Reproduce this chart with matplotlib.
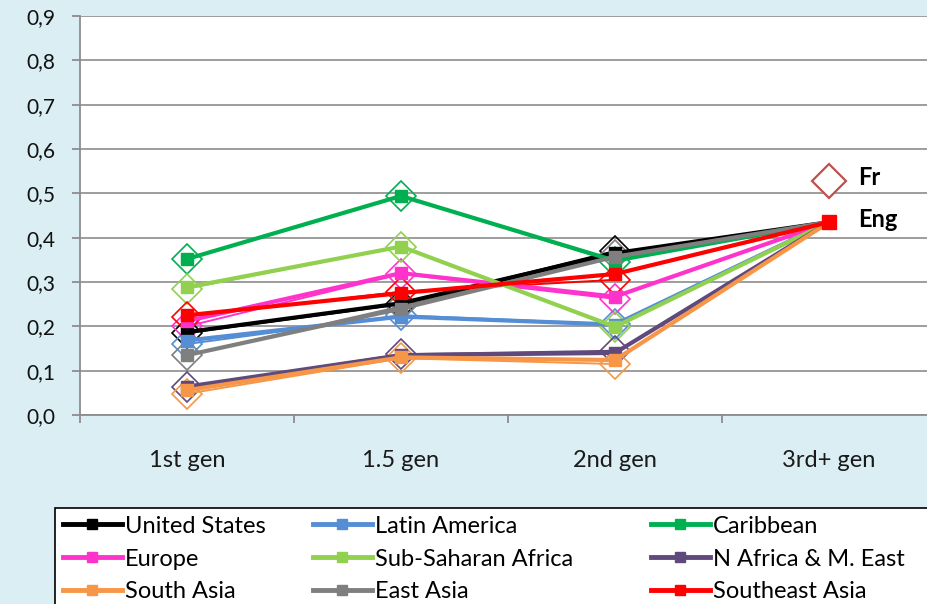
import matplotlib
matplotlib.use("Agg")
import matplotlib.pyplot as plt
from matplotlib.lines import Line2D
from matplotlib.patches import Rectangle

plt.rcParams['font.family'] = ['Lato', 'DejaVu Sans']

# categories and series (Eng = filled squares, Fr = hollow diamonds)
generations = ['1st gen', '1.5 gen', '2nd gen', '3rd+ gen']
regions = ['United States', 'Latin America', 'Caribbean',
           'Europe', 'Sub-Saharan Africa', 'N Africa & M. East',
           'South Asia', 'East Asia', 'Southeast Asia']
colors = ['#000000', '#558ED5', '#00B050',
          '#FF33CC', '#92D050', '#604A7B',
          '#F79646', '#7F7F7F', '#FF0000']

eng_vals = [
    [0.187, 0.252, 0.365, 0.435],   # United States
    [0.168, 0.222, 0.204, 0.435],   # Latin America
    [0.352, 0.494, 0.348, 0.435],   # Caribbean
    [0.212, 0.320, 0.267, 0.435],   # Europe
    [0.288, 0.380, 0.199, 0.435],   # Sub-Saharan Africa
    [0.064, 0.135, 0.140, 0.435],   # N Africa & M. East
    [0.056, 0.130, 0.124, 0.435],   # South Asia
    [0.135, 0.240, 0.357, 0.435],   # East Asia
    [0.225, 0.275, 0.318, 0.435],   # Southeast Asia
]
fr_vals = [
    [0.185, 0.250, 0.370],
    [0.160, 0.225, 0.205],
    [0.352, 0.494, 0.345],
    [0.200, 0.318, 0.262],
    [0.285, 0.380, 0.198],
    [0.063, 0.137, 0.145],
    [0.048, 0.128, 0.115],
    [0.135, 0.245, 0.362],
    [0.222, 0.278, 0.305],
]
fr_third = 0.528
eng_third = 0.435

W, H = 927, 604
fig = plt.figure(figsize=(W / 100, H / 100), dpi=100, facecolor='#DAEEF3')
ax = fig.add_axes([80 / W, 1 - 415 / H, 856 / W, 399 / H])
ax.set_facecolor('white')

x = list(range(len(generations)))
for name, col, ev, fv in zip(regions, colors, eng_vals, fr_vals):
    ax.plot(x[:3], fv, color=col, lw=1.4, marker='D', ms=15, mfc='none',
            mec=col, mew=1.2, zorder=3)
    ax.plot(x, ev, color=col, lw=3, marker='s', ms=8, mec=col, zorder=4)

# 3rd+ gen reference points
ax.plot([3], [fr_third], marker='D', ms=17, mfc='white', mec='#C0504D',
        mew=1.6, ls='none', zorder=5)
ax.plot([3], [eng_third], marker='s', ms=10, color='#FF0000', ls='none', zorder=6)
ax.text(3.135, fr_third + 0.008, 'Fr', fontsize=17, fontweight='bold',
        va='center', ha='left')
ax.text(3.135, eng_third + 0.006, 'Eng', fontsize=17, fontweight='bold',
        va='center', ha='left')

ax.set_xlim(-0.5, 3.5)
ax.set_ylim(0, 0.9)
ax.set_yticks([i / 10 for i in range(10)])
ax.set_yticklabels([f'{i / 10:.1f}'.replace('.', ',') for i in range(10)])
ax.set_xticks(x)
ax.set_xticklabels(generations)
ax.set_xticks([-0.5, 0.5, 1.5, 2.5], minor=True)
ax.tick_params(axis='x', which='major', length=0, pad=25, labelsize=17,
               labelcolor='#1a1a1a')
ax.tick_params(axis='x', which='minor', length=6, width=1.3, color='#8C8C8C')
ax.tick_params(axis='y', length=6, width=1.3, color='#8C8C8C', pad=12,
               labelsize=15, labelcolor='#111111')
ax.grid(axis='y', color='#8C8C8C', lw=1.2)
ax.set_axisbelow(True)
for s in ['top', 'right']:
    ax.spines[s].set_visible(False)
for s in ['left', 'bottom']:
    ax.spines[s].set_color('#8C8C8C')
    ax.spines[s].set_linewidth(1.3)

# legend box with three columns
fig.patches.append(Rectangle((55 / W, -0.05), 0.97, (604 - 508) / H + 0.05,
                             transform=fig.transFigure, facecolor='white',
                             edgecolor='black', lw=1.2, zorder=0))
col_x = [58, 308, 646]
for c in range(3):
    handles = []
    for r in range(3):
        i = r * 3 + c
        handles.append(Line2D([], [], color=colors[i], lw=3.5, marker='s',
                              ms=7, label=regions[i]))
    fig.legend(handles=handles, loc='upper left',
               bbox_to_anchor=(col_x[c] / W, 1 - 511 / H), frameon=False,
               fontsize=17, handlelength=2.5, handletextpad=0.12,
               labelspacing=0.5, borderaxespad=0, borderpad=0.2)

fig.savefig('out.png', dpi=100, facecolor=fig.get_facecolor())
